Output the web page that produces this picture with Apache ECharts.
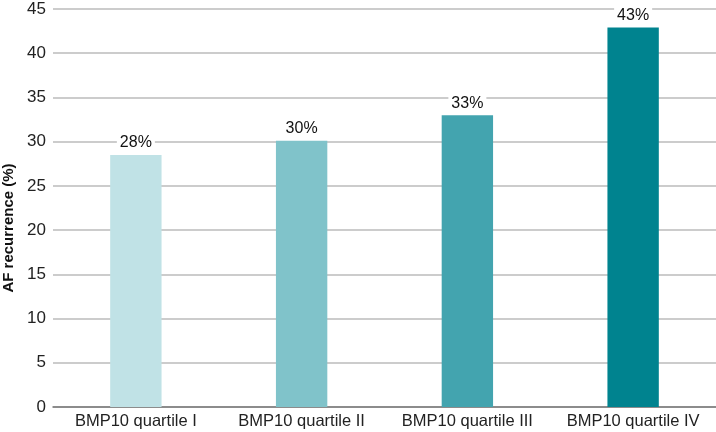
<!DOCTYPE html>
<html>
<head>
<meta charset="utf-8">
<script src="https://cdn.jsdelivr.net/npm/echarts@6/dist/echarts.min.js"></script>
<style>html,body{margin:0;padding:0;background:#fff;}#c{width:716px;height:432px;}</style>
</head>
<body>
<div id="c"></div>
<script>
var categories = ['BMP10 quartile I', 'BMP10 quartile II', 'BMP10 quartile III', 'BMP10 quartile IV'];
var values = [28.5, 30.1, 33.0, 42.9];
var valueLabels = ['28%', '30%', '33%', '43%'];
var barColors = ['#c0e2e6', '#80c3ca', '#43a4af', '#00838f'];
var yTicks = [0, 5, 10, 15, 20, 25, 30, 35, 40, 45];

var FONT = 'Liberation Sans, Arial, sans-serif';
var chart = echarts.init(document.getElementById('c'));
chart.setOption({
  animation: false,
  grid: { left: 53, right: 0, top: 9, bottom: 25, containLabel: false, outerBoundsMode: 'none' },
  xAxis: {
    type: 'category',
    data: categories,
    axisLine: { lineStyle: { color: '#777', width: 1.5 } },
    axisTick: { show: false },
    axisLabel: { color: '#222', fontSize: 16.5, fontFamily: FONT, margin: 6, interval: 0 }
  },
  yAxis: {
    type: 'value',
    min: yTicks[0],
    max: yTicks[yTicks.length - 1],
    interval: 5,
    name: 'AF recurrence (%)',
    nameLocation: 'middle',
    nameGap: 33,
    nameTextStyle: { color: '#111', fontSize: 15, fontWeight: 'bold', fontFamily: FONT, padding: [0, 40, 0, 0] },
    axisLine: { show: false },
    axisTick: { show: false },
    axisLabel: { color: '#222', fontSize: 17, fontFamily: FONT, margin: 7 },
    splitLine: { lineStyle: { color: '#bbb', width: 1.5 } }
  },
  series: [{
    type: 'bar',
    barWidth: '31%',
    data: values.map(function (v, i) { return { value: v, itemStyle: { color: barColors[i] } }; }),
    label: {
      show: true,
      position: 'top',
      distance: 3,
      color: '#111',
      fontSize: 16,
      fontFamily: FONT,
      backgroundColor: '#fff',
      padding: [1, 3],
      formatter: function (p) { return valueLabels[p.dataIndex]; }
    }
  }]
});
</script>
</body>
</html>
